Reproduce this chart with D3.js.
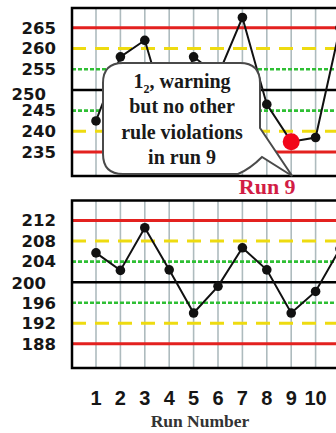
<!DOCTYPE html>
<html>
<head>
<meta charset="utf-8">
<script src="https://cdn.jsdelivr.net/npm/d3@7"></script>
<style>
  html, body { margin: 0; padding: 0; background: #fff; }
  svg { display: block; }
</style>
</head>
<body>
<svg id="chart" width="336" height="433"></svg>
<script>
// Run numbers and the two control levels (mean, SD and measured values)
const runs = [1, 2, 3, 4, 5, 6, 7, 8, 9, 10, 11];
const runLabels = [1, 2, 3, 4, 5, 6, 7, 8, 9, 10];
const highValues = [242.5, 258, 262, 242, 258, 253.5, 267.5, 246.5, 237.5, 238.5, 265];
const lowValues = [205.7, 202.3, 210.6, 202.4, 194, 199.2, 206.7, 202.4, 194, 198.2, 206.5];
const highMean = 250, highSD = 5;
const lowMean = 200, lowSD = 4;
const highTicks = [265, 260, 255, 250, 245, 240, 235];
const lowTicks = [212, 208, 204, 200, 196, 192, 188];
const flaggedRun = 9;
const calloutLines = ["but no other", "rule violations", "in run 9"];

const svg = d3.select("#chart");
const W = 336;
const left = 72;

const x = d3.scaleLinear().domain([0, 11]).range([71.6, 71.6 + 11 * 24.4]);

const panels = [
  { values: highValues, mean: highMean, sd: highSD, ticks: highTicks,
    y: d3.scaleLinear().domain([229.2, 269.8]).range([176, 8]), top: 8, bottom: 176, meanShift: 4 },
  { values: lowValues, mean: lowMean, sd: lowSD, ticks: lowTicks,
    y: d3.scaleLinear().domain([183.3, 215.9]).range([368, 200.5]), top: 200.5, bottom: 368, meanShift: 1 }
];

const limitStyle = k => {
  const a = Math.abs(k);
  if (a === 3) return { stroke: "#e3211f", width: 3, dash: null };
  if (a === 2) return { stroke: "#eedb10", width: 3, dash: "14,9" };
  if (a === 1) return { stroke: "#2fbf34", width: 2.6, dash: "4,2" };
  return { stroke: "#000", width: 2.6, dash: null };
};

panels.forEach((p, pi) => {
  const g = svg.append("g");

  // vertical run grid
  g.selectAll("line.grid").data(runs).join("line")
    .attr("x1", d => x(d)).attr("x2", d => x(d))
    .attr("y1", p.top).attr("y2", p.bottom)
    .attr("stroke", "#aebbbe").attr("stroke-width", 1.6);

  // mean and +/-1,2,3 SD limit lines
  [3, 2, 1, 0, -1, -2, -3].forEach(k => {
    const s = limitStyle(k);
    g.append("line")
      .attr("x1", left).attr("x2", W + 4)
      .attr("y1", p.y(p.mean + k * p.sd)).attr("y2", p.y(p.mean + k * p.sd))
      .attr("stroke", s.stroke).attr("stroke-width", s.width)
      .attr("stroke-dasharray", s.dash);
  });

  // frame
  g.append("path")
    .attr("d", `M${W + 4},${p.top}H${left}V${p.bottom}H${W + 4}`)
    .attr("fill", "none").attr("stroke", "#000").attr("stroke-width", 2.5);

  // measured values
  const line = d3.line().x((d, i) => x(runs[i])).y(d => p.y(d));
  g.append("path").attr("d", line(p.values))
    .attr("fill", "none").attr("stroke", "#111").attr("stroke-width", 2);
  g.selectAll("circle.pt").data(p.values).join("circle")
    .attr("cx", (d, i) => x(runs[i])).attr("cy", d => p.y(d))
    .attr("r", (d, i) => (pi === 0 && runs[i] === flaggedRun) ? 8.5 : 4.8)
    .attr("fill", (d, i) => (pi === 0 && runs[i] === flaggedRun) ? "#f2061a" : "#111");

  // y axis labels
  const axis = d3.axisLeft(p.y).tickValues(p.ticks).tickSize(0).tickPadding(16);
  const ax = g.append("g").attr("transform", `translate(${left},0)`).call(axis);
  ax.select(".domain").remove();
  ax.selectAll("text")
    .attr("font-family", "DejaVu Sans, sans-serif")
    .attr("font-weight", "bold").attr("font-size", 16.5)
    .attr("fill", "#161616");
  ax.selectAll(".tick").filter(d => d === p.mean).select("text")
    .attr("x", -26).attr("y", p.meanShift);
});

// callout over the upper panel pointing at the flagged run
const tipX = x(flaggedRun) + 1, tipY = 176;
const cL = 103, cR = 260, cT = 63, cB = 174, r = 20;
const callout = `M${cL + r},${cT}H${cR - r}Q${cR},${cT} ${cR},${cT + r}V128L${tipX},${tipY}` +
  `L262,157Q250,169 ${cR - 22},${cB}H${cL + r}Q${cL},${cB} ${cL},${cB - r}V${cT + r}Q${cL},${cT} ${cL + r},${cT}Z`;
svg.append("path").attr("d", callout)
  .attr("fill", "#fff").attr("stroke", "#4a4a4a").attr("stroke-width", 2);

const tx = 182;
const t1 = svg.append("text").attr("x", tx).attr("y", 88).attr("text-anchor", "middle")
  .attr("font-family", "Liberation Serif, Times New Roman, serif")
  .attr("font-weight", "bold").attr("font-size", 20).attr("fill", "#1a1a1a");
t1.append("tspan").text("1");
t1.append("tspan").attr("font-size", 12).attr("dy", 5).text("2");
t1.append("tspan").attr("dy", -5).text(", warning");

svg.selectAll("text.note").data(calloutLines).join("text")
  .attr("x", tx).attr("y", (d, i) => 113 + i * 25.5).attr("text-anchor", "middle")
  .attr("font-family", "Liberation Serif, Times New Roman, serif")
  .attr("font-weight", "bold").attr("font-size", 20).attr("fill", "#1a1a1a")
  .text(d => d);

svg.append("text").attr("x", x(flaggedRun) - 24).attr("y", 194)
  .attr("text-anchor", "middle")
  .attr("font-family", "Liberation Serif, Times New Roman, serif")
  .attr("font-weight", "bold").attr("font-size", 22).attr("fill", "#d21d45")
  .text("Run " + flaggedRun);

// run number axis labels
svg.selectAll("text.run").data(runLabels).join("text")
  .attr("x", d => x(d)).attr("y", 405).attr("text-anchor", "middle")
  .attr("font-family", "Liberation Sans, Arial, sans-serif")
  .attr("font-weight", "bold").attr("font-size", 20).attr("fill", "#161616")
  .text(d => d);

svg.append("text").attr("x", 200).attr("y", 427).attr("text-anchor", "middle")
  .attr("font-family", "Liberation Serif, Times New Roman, serif")
  .attr("font-weight", "bold").attr("font-size", 17.5).attr("fill", "#333")
  .text("Run Number");
</script>
</body>
</html>
